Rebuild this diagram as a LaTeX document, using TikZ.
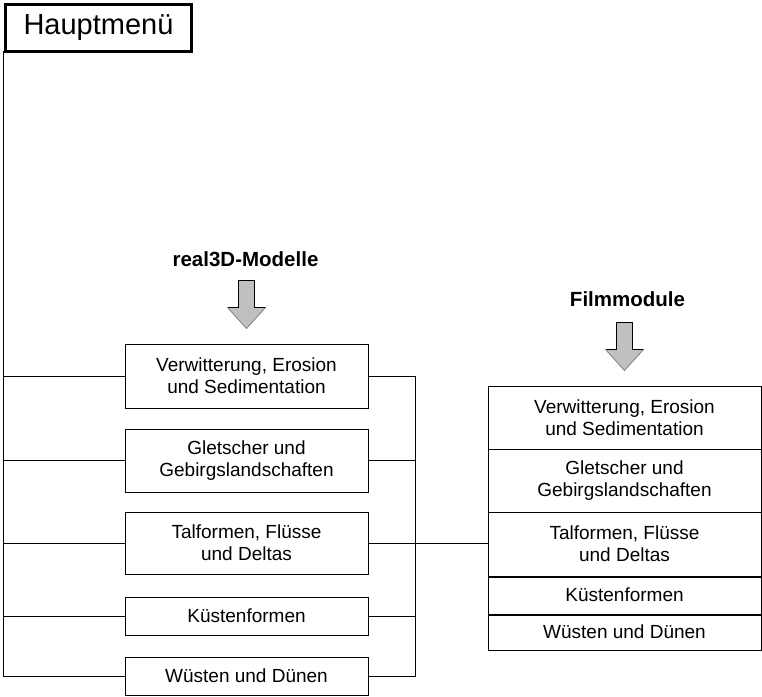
\documentclass[tikz,border=0pt]{standalone}
\usepackage{fontspec}
\setmainfont{Liberation Sans}
\definecolor{arrowfill}{RGB}{192,192,192}
\definecolor{arrowedge}{RGB}{128,128,128}
\tikzset{
  box/.style={draw=black, line width=1pt, align=center, inner sep=0pt,
    font=\fontsize{19}{22}\selectfont},
  leftbox/.style={box, minimum width=243pt},
  rightbox/.style={box, minimum width=273pt},
  heading/.style={font=\fontsize{20.5}{24}\selectfont\bfseries, inner sep=0pt, anchor=base},
  conn/.style={line width=1pt},
  downarrow/.pic={
    \fill[arrowfill] (-8,0) -- (8,0) -- (8,27) -- (19,27) -- (0,48) -- (-19,27) -- (-8,27) -- cycle;
    \draw[line width=1pt, black] (-19,27) -- (-8,27) -- (-8,0) -- (8,0) -- (8,27) -- (19,27);
    \draw[line width=0.8pt, arrowedge] (19,27) -- (0,48) -- (-19,27);
  }
}
\begin{document}
\begin{tikzpicture}[x=1pt,y=-1pt]
\useasboundingbox (0,0) rectangle (762,696);
% main menu
\node[draw=black, line width=3pt, minimum width=186pt, minimum height=47pt, inner sep=0pt,
  font=\fontsize{29}{34}\selectfont] (haupt) at (98.5,27.8) {Hauptmenü};
% headings
\node[heading] (real) at (245.5,266.5) {real3D-Modelle};
\node[heading] (film) at (627.5,306.5) {Filmmodule};
% arrows
\pic at (246.5,280.5) {downarrow};
\pic at (624.5,322.5) {downarrow};
% left column
\node[leftbox, minimum height=64pt] (b1) at (246.5,376) {Verwitterung, Erosion\\und Sedimentation};
\node[leftbox, minimum height=63pt] (b2) at (246.5,460.5) {Gletscher und\\Gebirgslandschaften};
\node[leftbox, minimum height=62pt] (b3) at (246.5,543) {Talformen, Flüsse\\und Deltas};
\node[leftbox, minimum height=38pt] (b4) at (246.5,616) {Küstenformen};
\node[leftbox, minimum height=38pt] (b5) at (246.5,676) {Wüsten und Dünen};
% right column
\node[rightbox, minimum height=63pt] (r1) at (624.5,417.5) {Verwitterung, Erosion\\und Sedimentation};
\node[rightbox, minimum height=63pt] (r2) at (624.5,480.5) {Gletscher und\\Gebirgslandschaften};
\node[rightbox, minimum height=64pt] (r3) at (624.5,544) {Talformen, Flüsse\\und Deltas};
\node[rightbox, minimum height=38pt] (r4) at (624.5,595) {Küstenformen};
\node[rightbox, minimum height=36pt] (r5) at (624.5,632) {Wüsten und Dünen};
\draw[line width=2pt] (r3.south west) -- (r3.south east);
\draw[line width=2pt] (r4.south west) -- (r4.south east);
% spines
\coordinate (ls) at (3.5,51);
\coordinate (rs) at (415,376);
\draw[conn] (ls) |- (b5.west);
\draw[conn] (b1.west) -- (b1.west -| ls);
\draw[conn] (b2.west) -- (b2.west -| ls);
\draw[conn] (b3.west) -- (b3.west -| ls);
\draw[conn] (b4.west) -- (b4.west -| ls);
\draw[conn] (b1.east) -- (rs) |- (b5.east);
\draw[conn] (b2.east) -- (b2.east -| rs);
\draw[conn] (b3.east) -- (b3.east -| rs);
\draw[conn] (b4.east) -- (b4.east -| rs);
\draw[conn] (b3.east -| rs) -- (b3.east -| r3.west);
\end{tikzpicture}
\end{document}
